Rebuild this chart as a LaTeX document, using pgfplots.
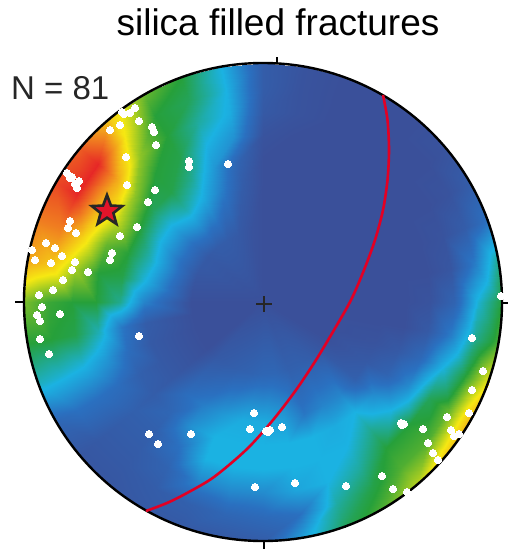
\documentclass[border=0pt]{standalone}
\usepackage{pgfplots}
\pgfplotsset{compat=1.18}
\usepackage{pgfplotstable}
\usepackage{fontspec}
\setmainfont{Liberation Sans}

% filled five-pointed star used for the mean pole
\pgfdeclareplotmark{starfill}{%
  \pgfpathmoveto{\pgfpointpolar{90}{\pgfplotmarksize}}%
  \pgfpathlineto{\pgfpointpolar{126}{0.42\pgfplotmarksize}}%
  \pgfpathlineto{\pgfpointpolar{162}{\pgfplotmarksize}}%
  \pgfpathlineto{\pgfpointpolar{198}{0.42\pgfplotmarksize}}%
  \pgfpathlineto{\pgfpointpolar{234}{\pgfplotmarksize}}%
  \pgfpathlineto{\pgfpointpolar{270}{0.42\pgfplotmarksize}}%
  \pgfpathlineto{\pgfpointpolar{306}{\pgfplotmarksize}}%
  \pgfpathlineto{\pgfpointpolar{342}{0.42\pgfplotmarksize}}%
  \pgfpathlineto{\pgfpointpolar{18}{\pgfplotmarksize}}%
  \pgfpathlineto{\pgfpointpolar{54}{0.42\pgfplotmarksize}}%
  \pgfpathclose
  \pgfusepathqfillstroke}

% pole density on a polar lattice: t = azimuth (deg, from east, ccw), r = radius (net = 1)
\pgfplotstableread[row sep=\\]{
t r d \\
0 0 0 \\ 10 0 0 \\ 20 0 0 \\ 30 0 0 \\ 40 0 0 \\ 50 0 0 \\ 60 0 0 \\ 70 0 0 \\ 80 0 0 \\ 90 0 0 \\
100 0 0 \\ 110 0 0 \\ 120 0 0 \\ 130 0 0 \\ 140 0 0 \\ 150 0 0 \\ 160 0 0 \\ 170 0 0 \\ 180 0 0 \\
190 0 0 \\ 200 0 0 \\ 210 0 0 \\ 220 0 0 \\ 230 0 0 \\ 240 0 0 \\ 250 0 0 \\ 260 0 0 \\ 270 0 0 \\
280 0 0 \\ 290 0 0 \\ 300 0 0 \\ 310 0 0 \\ 320 0 0 \\ 330 0 0 \\ 340 0 0 \\ 350 0 0 \\ 360 0 0 \\
0 0.3 0 \\ 10 0.3 0 \\ 20 0.3 0 \\ 30 0.3 0 \\ 40 0.3 0 \\ 50 0.3 0 \\ 60 0.3 0 \\ 70 0.3 0 \\ 80 0.3 0 \\ 90 0.3 0 \\
100 0.3 0.1 \\ 110 0.3 0.3 \\ 120 0.3 0.4 \\ 130 0.3 0.4 \\ 140 0.3 0.3 \\ 150 0.3 0.3 \\ 160 0.3 0.2 \\ 170 0.3 0.1 \\ 180 0.3 0 \\
190 0.3 0 \\ 200 0.3 0 \\ 210 0.3 0 \\ 220 0.3 0 \\ 230 0.3 0.3 \\ 240 0.3 0.4 \\ 250 0.3 0.5 \\ 260 0.3 0.6 \\ 270 0.3 0.7 \\
280 0.3 0.7 \\ 290 0.3 0.5 \\ 300 0.3 0.5 \\ 310 0.3 0.4 \\ 320 0.3 0.2 \\ 330 0.3 0 \\ 340 0.3 0 \\ 350 0.3 0 \\ 360 0.3 0 \\
0 0.5 0 \\ 10 0.5 0 \\ 20 0.5 0 \\ 30 0.5 0 \\ 40 0.5 0 \\ 50 0.5 0 \\ 60 0.5 0 \\ 70 0.5 0 \\ 80 0.5 0 \\ 90 0.5 0 \\
100 0.5 0.4 \\ 110 0.5 1.2 \\ 120 0.5 1.9 \\ 130 0.5 2.3 \\ 140 0.5 2.0 \\ 150 0.5 2.0 \\ 160 0.5 2.2 \\ 170 0.5 2.0 \\ 180 0.5 1.3 \\
190 0.5 0.4 \\ 200 0.5 0.3 \\ 210 0.5 0.3 \\ 220 0.5 0.3 \\ 230 0.5 0.9 \\ 240 0.5 1.2 \\ 250 0.5 1.6 \\ 260 0.5 1.9 \\ 270 0.5 1.9 \\
280 0.5 1.7 \\ 290 0.5 1.1 \\ 300 0.5 1.3 \\ 310 0.5 1.3 \\ 320 0.5 0.5 \\ 330 0.5 0.3 \\ 340 0.5 0.1 \\ 350 0.5 0 \\ 360 0.5 0 \\
0 0.6 0 \\ 10 0.6 0 \\ 20 0.6 0 \\ 30 0.6 0 \\ 40 0.6 0 \\ 50 0.6 0 \\ 60 0.6 0 \\ 70 0.6 0 \\ 80 0.6 0 \\ 90 0.6 0 \\
100 0.6 0.6 \\ 110 0.6 1.6 \\ 120 0.6 2.5 \\ 130 0.6 2.9 \\ 140 0.6 2.8 \\ 150 0.6 3.0 \\ 160 0.6 3.0 \\ 170 0.6 2.9 \\ 180 0.6 2.5 \\
190 0.6 1.1 \\ 200 0.6 0.9 \\ 210 0.6 0.5 \\ 220 0.6 0.4 \\ 230 0.6 0.7 \\ 240 0.6 1.5 \\ 250 0.6 2.0 \\ 260 0.6 2.0 \\ 270 0.6 2.0 \\
280 0.6 2.0 \\ 290 0.6 2.0 \\ 300 0.6 1.9 \\ 310 0.6 2.0 \\ 320 0.6 1.4 \\ 330 0.6 0.6 \\ 340 0.6 0.3 \\ 350 0.6 0 \\ 360 0.6 0 \\
0 0.7 0.1 \\ 10 0.7 0 \\ 20 0.7 0 \\ 30 0.7 0 \\ 40 0.7 0 \\ 50 0.7 0 \\ 60 0.7 0 \\ 70 0.7 0 \\ 80 0.7 0 \\ 90 0.7 0.1 \\
100 0.7 1.5 \\ 110 0.7 2.0 \\ 120 0.7 2.9 \\ 130 0.7 3.0 \\ 140 0.7 3.5 \\ 150 0.7 3.8 \\ 160 0.7 3.3 \\ 170 0.7 3.0 \\ 180 0.7 3.0 \\
190 0.7 2.3 \\ 200 0.7 1.6 \\ 210 0.7 0.9 \\ 220 0.7 0.5 \\ 230 0.7 0.5 \\ 240 0.7 1.0 \\ 250 0.7 2.0 \\ 260 0.7 2.0 \\ 270 0.7 2.0 \\
280 0.7 2.0 \\ 290 0.7 2.0 \\ 300 0.7 2.0 \\ 310 0.7 2.5 \\ 320 0.7 2.0 \\ 330 0.7 1.4 \\ 340 0.7 0.8 \\ 350 0.7 0.3 \\ 360 0.7 0.1 \\
0 0.8 0.6 \\ 10 0.8 0.2 \\ 20 0.8 0.1 \\ 30 0.8 0 \\ 40 0.8 0 \\ 50 0.8 0 \\ 60 0.8 0 \\ 70 0.8 0 \\ 80 0.8 0.1 \\ 90 0.8 0.3 \\
100 0.8 1.9 \\ 110 0.8 2.4 \\ 120 0.8 3.0 \\ 130 0.8 3.5 \\ 140 0.8 4.6 \\ 150 0.8 4.6 \\ 160 0.8 4.2 \\ 170 0.8 3.6 \\ 180 0.8 3.0 \\
190 0.8 2.9 \\ 200 0.8 2.0 \\ 210 0.8 1.0 \\ 220 0.8 0.4 \\ 230 0.8 0.4 \\ 240 0.8 0.6 \\ 250 0.8 1.3 \\ 260 0.8 1.4 \\ 270 0.8 1.4 \\
280 0.8 1.8 \\ 290 0.8 2.0 \\ 300 0.8 2.4 \\ 310 0.8 3.0 \\ 320 0.8 3.0 \\ 330 0.8 2.8 \\ 340 0.8 2.0 \\ 350 0.8 1.2 \\ 360 0.8 0.6 \\
0 0.9 2.1 \\ 10 0.9 1.2 \\ 20 0.9 0.4 \\ 30 0.9 0.1 \\ 40 0.9 0 \\ 50 0.9 0 \\ 60 0.9 0 \\ 70 0.9 0 \\ 80 0.9 0.1 \\ 90 0.9 0.4 \\
100 0.9 2.0 \\ 110 0.9 2.8 \\ 120 0.9 3.0 \\ 130 0.9 4.0 \\ 140 0.9 5.8 \\ 150 0.9 5.8 \\ 160 0.9 5.0 \\ 170 0.9 4.3 \\ 180 0.9 3.1 \\
190 0.9 3.0 \\ 200 0.9 2.1 \\ 210 0.9 1.0 \\ 220 0.9 0.3 \\ 230 0.9 0.3 \\ 240 0.9 0.4 \\ 250 0.9 0.5 \\ 260 0.9 0.7 \\ 270 0.9 0.8 \\
280 0.9 1.0 \\ 290 0.9 2.4 \\ 300 0.9 2.9 \\ 310 0.9 3.2 \\ 320 0.9 3.2 \\ 330 0.9 3.3 \\ 340 0.9 3.0 \\ 350 0.9 2.5 \\ 360 0.9 2.1 \\
0 1 3.0 \\ 10 1 2.5 \\ 20 1 1.0 \\ 30 1 0.4 \\ 40 1 0.1 \\ 50 1 0 \\ 60 1 0 \\ 70 1 0 \\ 80 1 0.1 \\ 90 1 0.4 \\
100 1 2.0 \\ 110 1 3.0 \\ 120 1 3.3 \\ 130 1 4.3 \\ 140 1 5.3 \\ 150 1 5.5 \\ 160 1 5.0 \\ 170 1 4.6 \\ 180 1 3.4 \\
190 1 3.0 \\ 200 1 2.2 \\ 210 1 0.7 \\ 220 1 0.2 \\ 230 1 0.2 \\ 240 1 0.3 \\ 250 1 0.3 \\ 260 1 0.3 \\ 270 1 0.4 \\
280 1 1.8 \\ 290 1 2.8 \\ 300 1 3.2 \\ 310 1 3.7 \\ 320 1 4.3 \\ 330 1 4.5 \\ 340 1 4.0 \\ 350 1 3.2 \\ 360 1 3.0 \\
}\densgrid

% fracture poles (x, y on the drawing canvas, y downwards)
\pgfplotstableread[row sep=\\]{
x y \\
122 112 \\ 130 113 \\ 135 108 \\ 139 121 \\ 124 114 \\ 110 130 \\ 120 125 \\ 152 127 \\ 154 132 \\
156 145 \\ 126 157 \\ 189 161 \\ 189 167 \\ 228 164 \\ 67 173 \\ 72 177 \\ 79 181 \\ 75 184 \\
77 188 \\ 127 185 \\ 155 190 \\ 148 202 \\ 70 221 \\ 68 228 \\ 76 233 \\ 137 227 \\ 120 236 \\
46 243 \\ 55 248 \\ 32 250 \\ 62 256 \\ 35 260 \\ 51 263 \\ 75 262 \\ 112 253 \\ 110 260 \\
72 270 \\ 88 272 \\ 63 280 \\ 53 290 \\ 39 295 \\ 42 307 \\ 37 315 \\ 40 321 \\ 60 314 \\
40 339 \\ 49 354 \\ 139 336 \\ 149 434 \\ 158 444 \\ 191 434 \\ 254 413 \\ 250 429 \\ 266 431 \\
270 430 \\ 282 427 \\ 255 487 \\ 295 483 \\ 501 296 \\ 472 338 \\ 483 371 \\ 472 390 \\ 469 413 \\
447 417 \\ 401 423 \\ 404 424 \\ 423 429 \\ 451 430 \\ 454 436 \\ 459 434 \\ 428 443 \\ 433 453 \\
438 460 \\ 382 476 \\ 393 489 \\ 407 492 \\ 346 486 \\ 70 178 \\ 268 432 \\ 402 425 \\
}\poles

\begin{document}
\begin{tikzpicture}
\useasboundingbox (0,0) rectangle (508pt,549pt);
\begin{axis}[
  at={(0,0)}, anchor=south west,
  scale only axis, width=508pt, height=549pt,
  xmin=0, xmax=508, ymin=0, ymax=549,
  y dir=reverse,
  hide axis, clip=false,
  colormap={density}{
    rgb255=(58,80,154) rgb255=(42,112,192) rgb255=(27,178,226)
    rgb255=(38,160,58) rgb255=(246,232,18) rgb255=(240,125,32)
    rgb255=(228,18,40)},
  point meta min=0, point meta max=6,
]
% density of poles
\addplot[surf, shader=interp, mesh/cols=37, point meta=\thisrow{d}]
  table[x expr={263+239*\thisrow{r}*cos(\thisrow{t})},
        y expr={302-239*\thisrow{r}*sin(\thisrow{t})}] {\densgrid};

% primitive circle, ticks and centre
\draw[line width=2.4pt] (axis cs:263,302) circle[radius=239pt];
\draw[line width=2pt] (axis cs:15,302) -- (axis cs:24,302);
\draw[line width=2pt] (axis cs:502,303) -- (axis cs:508,303);
\draw[line width=2pt] (axis cs:264,541) -- (axis cs:264,549);
\draw[line width=2pt] (axis cs:277,57) -- (axis cs:277,63);
\draw[line width=2.2pt, black!85] (axis cs:256,304) -- (axis cs:272,304);
\draw[line width=2.2pt, black!85] (axis cs:264,296) -- (axis cs:264,312);

% mean great circle
\addplot[smooth, line width=2.6pt, color={rgb,255:red,226;green,0;blue,36}] coordinates {
  (383,95) (387.5,120) (389,150) (387.5,180) (383,210) (375,240) (364,270)
  (351,300) (334,330) (316,360) (296,390) (273,420) (247,449) (214,477)
  (187,493) (167,503) (146,511)};

% poles
\addplot[white, only marks, mark=*, mark size=3.5pt, mark options={fill=white, draw=white, line width=0pt}]
  table {\poles};

% mean pole
\addplot[only marks, mark=starfill, mark size=16pt,
  mark options={fill={rgb,255:red,226;green,20;blue,42}, draw=black!85, line width=2.6pt, line join=miter}]
  coordinates {(107,211)};

\node[anchor=base, font=\fontsize{37}{40}\selectfont] at (axis cs:278,35) {silica filled fractures};
\node[anchor=base west, inner sep=0pt, font=\fontsize{33}{36}\selectfont, text=black!85] at (axis cs:11,99) {N = 81};
\end{axis}
\end{tikzpicture}
\end{document}
